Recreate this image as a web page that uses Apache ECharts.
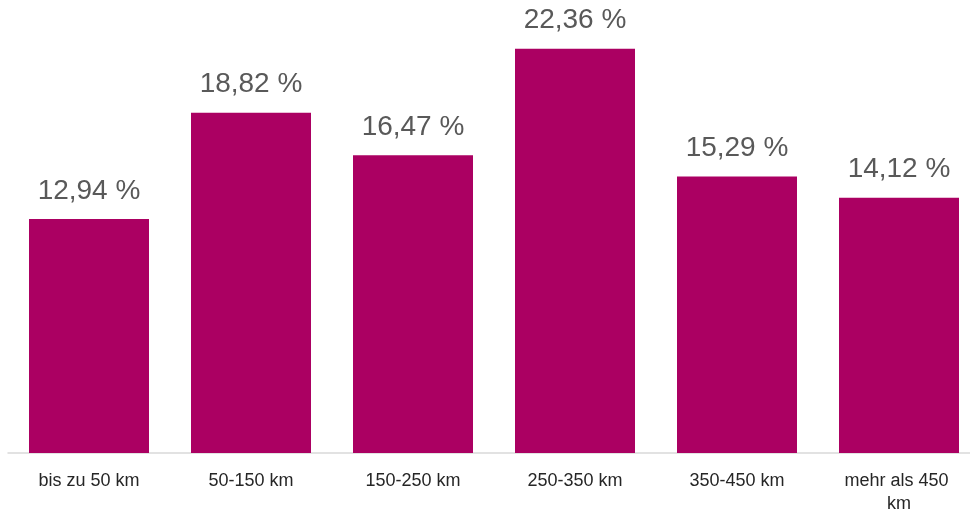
<!DOCTYPE html>
<html>
<head>
<meta charset="utf-8">
<script src="https://cdn.jsdelivr.net/npm/echarts@6/dist/echarts.min.js"></script>
<style>
  html, body { margin: 0; padding: 0; background: #fff; overflow: hidden; }
  #chart { width: 970px; height: 514px; }
</style>
</head>
<body>
<div id="chart"></div>
<script>
// Distanzklassen und Anteile in Prozent
const categories = ['bis zu 50 km', '50-150 km', '150-250 km', '250-350 km', '350-450 km', 'mehr als 450 km'];
const shares = [12.94, 18.82, 16.47, 22.36, 15.29, 14.12];

const chart = echarts.init(document.getElementById('chart'), null, { renderer: 'canvas' });

chart.setOption({
  animation: false,
  grid: { left: 8, width: 972, top: 1, height: 452, outerBoundsMode: 'none', containLabel: false },
  xAxis: {
    type: 'category',
    data: categories,
    axisLine: { show: true, lineStyle: { color: '#d9d9d9', width: 1.5 } },
    axisTick: { show: false },
    axisLabel: {
      interval: 0,
      margin: 17,
      color: '#262626',
      fontFamily: 'Liberation Sans, sans-serif',
      fontSize: 18,
      lineHeight: 23,
      width: 120,
      overflow: 'break'
    }
  },
  yAxis: {
    type: 'value',
    min: 0,
    max: 25,
    show: false,
    splitLine: { show: false }
  },
  series: [{
    type: 'bar',
    data: shares,
    barWidth: 120,
    itemStyle: { color: '#ab0062' },
    label: {
      show: true,
      position: 'top',
      distance: 14,
      color: '#595959',
      fontFamily: 'Liberation Sans, sans-serif',
      fontSize: 28,
      formatter: p => p.value.toFixed(2).replace('.', ',') + ' %'
    }
  }]
});
</script>
</body>
</html>
